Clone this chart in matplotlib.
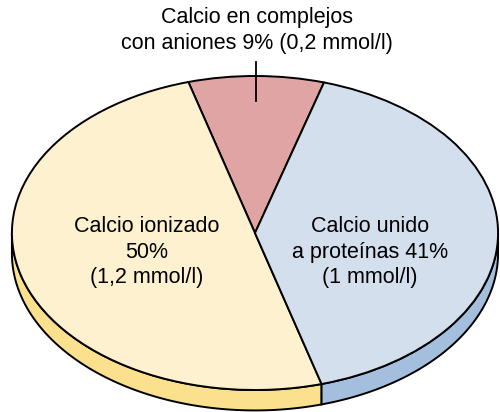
import matplotlib.pyplot as plt
import numpy as np

plt.rcParams['font.family'] = ['Liberation Sans', 'DejaVu Sans']

# data
labels = ['Calcio en complejos\ncon aniones 9% (0,2 mmol/l)',
          'Calcio ionizado\n50%\n(1,2 mmol/l)',
          'Calcio unido\na proteínas 41%\n(1 mmol/l)']
shares = [9, 50, 41]
top_colors = ['#e0a4a4', '#fdf1d0', '#d4dfed']
side_colors = ['#c98a8a', '#fbe08e', '#a3bfdd']

depth = 0.13

fig = plt.figure(figsize=(5, 4.12), dpi=100)
ax = fig.add_axes([0, 0, 1, 1])

wedges, _ = ax.pie(shares, colors=top_colors, startangle=73.5, counterclock=True,
                   wedgeprops=dict(edgecolor='black', linewidth=1.4, zorder=3))

# side band of the disc (front half only)
for w, c in zip(wedges, side_colors):
    t1, t2 = max(w.theta1, 180), min(w.theta2, 360)
    if t2 <= t1:
        continue
    th = np.radians(np.linspace(t1, t2, 100))
    xs = np.concatenate([np.cos(th), np.cos(th[::-1])])
    ys = np.concatenate([np.sin(th), np.sin(th[::-1]) - depth])
    ax.fill(xs, ys, facecolor=c, edgecolor='black', linewidth=1.4, zorder=1)

# leader line for the small slice
red = wedges[0]
mid = np.radians((red.theta1 + red.theta2) / 2)
ax.plot([np.cos(mid), np.cos(mid)], [0.84, 1.09], color='black', lw=1.3, zorder=4)

fs = 15.5
ax.text(0.01, 1.29, labels[0], ha='center', va='center', fontsize=fs, linespacing=1.3)
ax.text(-0.444, -0.121, labels[1], ha='center', va='center', fontsize=fs, linespacing=1.3, zorder=5)
ax.text(0.473, -0.121, labels[2], ha='center', va='center', fontsize=fs, linespacing=1.3, zorder=5)

ax.set_aspect('auto')
ax.set_xlim(-1.049, 1.008)
ax.set_ylim(-1.140, 1.484)
ax.axis('off')

fig.savefig('out.png', dpi=100)
